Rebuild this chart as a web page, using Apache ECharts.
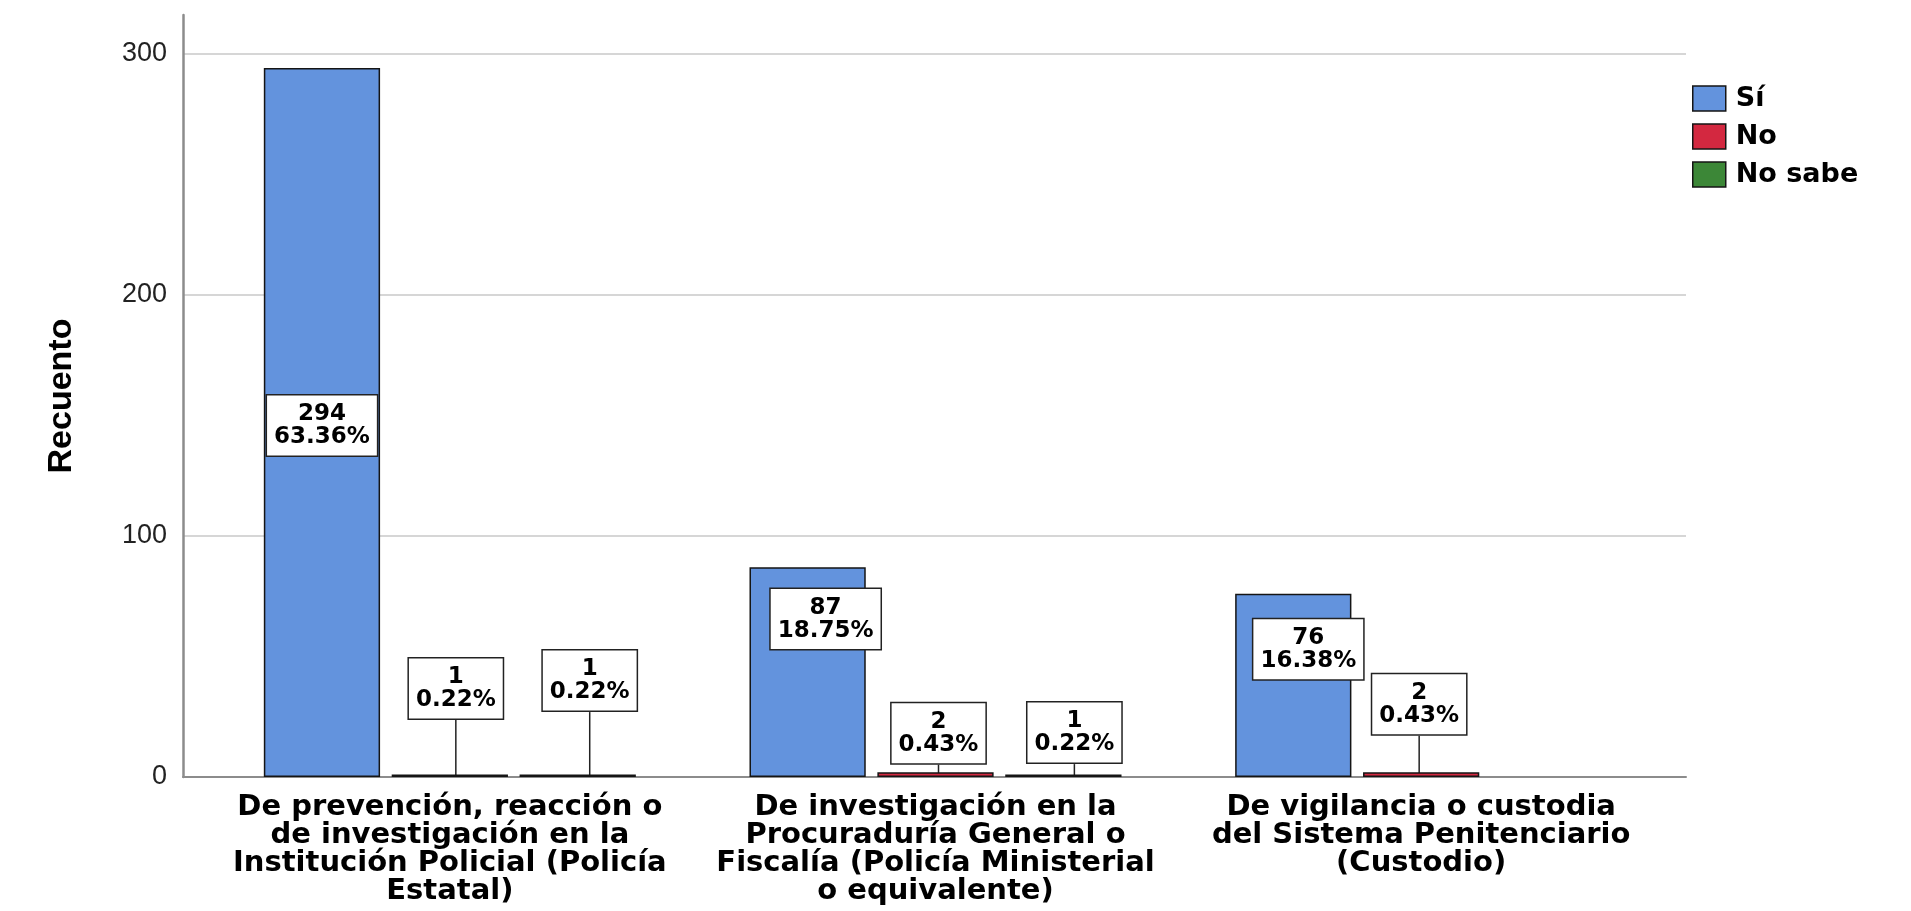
<!DOCTYPE html>
<html>
<head>
<meta charset="utf-8">
<script src="https://cdn.jsdelivr.net/npm/echarts@6/dist/echarts.min.js"></script>
<style>
html,body{margin:0;padding:0;background:#fff;}
#chart{width:1911px;height:911px;}
</style>
</head>
<body>
<div id="chart"></div>
<script>
// ---- data ----
const categories = [
  'De prevención, reacción o\nde investigación en la\nInstitución Policial (Policía\nEstatal)',
  'De investigación en la\nProcuraduría General o\nFiscalía (Policía Ministerial\no equivalente)',
  'De vigilancia o custodia\ndel Sistema Penitenciario\n(Custodio)'
];
const seriesNames = ['Sí', 'No', 'No sabe'];
const valuesSi = [294, 87, 76];
const valuesNo = [1, 2, 2];
const valuesNoSabe = [1, 1, null];
const pctSi = ['63.36%', '18.75%', '16.38%'];
const pctNo = ['0.22%', '0.43%', '0.43%'];
const pctNoSabe = ['0.22%', '0.22%', ''];
const yTicks = [0, 100, 200, 300];

// ---- styling (label offsets, colours) ----
const colors = ['#6393dd', '#d32840', '#3c8737'];
const labelOffsets = [
  [[0, 3], [18, -53], [15, -36]],
  [[6, -56], [3, -9], [-2, -38]],
  [[12, -64], [11, -12], null]
];

const allValues = [valuesSi, valuesNo, valuesNoSabe];
const allPct = [pctSi, pctNo, pctNoSabe];

const labelBox = {
  show: true,
  fontFamily: 'DejaVu Sans',
  fontWeight: 'bold',
  fontSize: 23,
  lineHeight: 23,
  color: '#000',
  backgroundColor: '#fff',
  borderColor: '#222',
  borderWidth: 1.5,
  padding: [7, 7, 7, 7],
  align: 'center'
};

const series = allValues.map((vals, si) => ({
  name: seriesNames[si],
  type: 'bar',
  xAxisIndex: 1,
  yAxisIndex: 1,
  data: vals,
  barGap: '10%',
  barCategoryGap: '23.4%',
  itemStyle: { color: colors[si], borderColor: '#151515', borderWidth: 1.5 },
  label: Object.assign({}, labelBox, {
    position: si === 0 ? 'inside' : 'top',
    distance: 0,
    formatter: p => p.value + '\n' + allPct[p.seriesIndex][p.dataIndex]
  }),
  labelLine: { show: si !== 0, lineStyle: { color: '#222', width: 1.5 } },
  labelLayout: function (params) {
    const o = labelOffsets[params.seriesIndex] && labelOffsets[params.seriesIndex][params.dataIndex];
    return o ? { dx: o[0], dy: o[1] } : {};
  },
  emphasis: { disabled: true },
  animation: false
}));

const chart = echarts.init(document.getElementById('chart'), null, { renderer: 'canvas' });
chart.setOption({
  animation: false,
  backgroundColor: '#fff',
  legend: {
    data: seriesNames,
    orient: 'vertical',
    left: 1692,
    top: 85,
    itemWidth: 33,
    itemHeight: 25,
    itemGap: 11,
    padding: 0,
    icon: 'rect',
    itemStyle: { borderColor: '#151515', borderWidth: 1.5 },
    textStyle: { fontFamily: 'DejaVu Sans', fontWeight: 'bold', fontSize: 27, color: '#000', padding: [0, 0, 0, 5] }
  },
  grid: [
    { left: 183, right: 225, top: 15, bottom: 134 },
    { left: 207, right: 247, top: 15, bottom: 134 }
  ],
  xAxis: [
    {
      type: 'value', gridIndex: 0, min: 0, max: 1,
      axisLine: { show: true, lineStyle: { color: '#8c8c8c', width: 2 } },
      axisTick: { show: false }, axisLabel: { show: false }, splitLine: { show: false }
    },
    {
      type: 'category', gridIndex: 1, data: categories,
      axisLine: { show: false }, axisTick: { show: false },
      axisLabel: {
        interval: 0, margin: 16,
        fontFamily: 'DejaVu Sans', fontWeight: 'bold', fontSize: 29, lineHeight: 28, color: '#000'
      }
    }
  ],
  yAxis: [
    {
      type: 'value', gridIndex: 0, min: 0, max: 316, interval: 100,
      name: 'Recuento', nameLocation: 'middle', nameGap: 104,
      nameTextStyle: { fontFamily: 'Liberation Sans', fontWeight: 'bold', fontSize: 34, color: '#000' },
      axisLine: { show: true, lineStyle: { color: '#8c8c8c', width: 2.5 } },
      axisTick: { show: false },
      axisLabel: {
        showMaxLabel: false, margin: 16,
        fontFamily: 'Liberation Sans', fontSize: 27, color: '#222',
        formatter: v => (yTicks.indexOf(v) >= 0 ? String(v) : '')
      },
      splitLine: { show: true, showMaxLine: false, showMinLine: false, lineStyle: { color: '#c8c8c8', width: 1.5 } }
    },
    {
      type: 'value', gridIndex: 1, min: 0, max: 316, interval: 100,
      axisLine: { show: false }, axisTick: { show: false }, axisLabel: { show: false }, splitLine: { show: false }
    }
  ],
  series: series
});
</script>
</body>
</html>
